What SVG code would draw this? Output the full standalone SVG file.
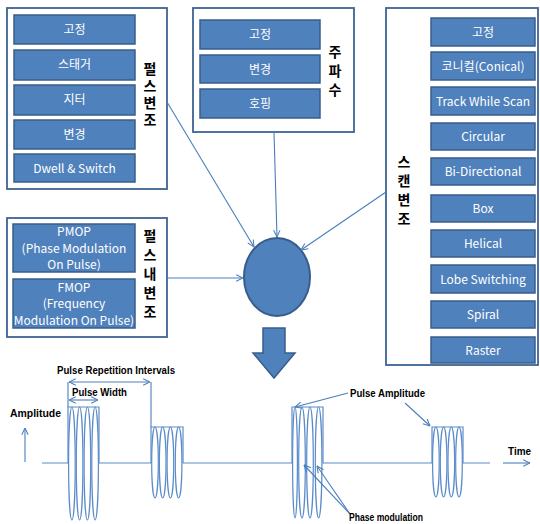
<svg xmlns="http://www.w3.org/2000/svg" width="540" height="524" viewBox="0 0 540 524">
<style>
.frame{fill:#fff;stroke:#3F6393;stroke-width:1.8}
.box{fill:#4F81BD;stroke:#385D8A;stroke-width:1.5}
.bt{fill:#fff;font-family:"Noto Sans CJK KR","Noto Sans",sans-serif;font-size:12px;text-anchor:middle}
.vt{fill:#000;font-family:"Noto Sans CJK KR",sans-serif;font-size:14px;font-weight:bold;writing-mode:vertical-rl;text-orientation:upright}
.con{fill:none;stroke:#4A7EBB;stroke-width:1.1}
.wave{fill:none;stroke:#5B8BC9;stroke-width:1.2}
.lbl{fill:#000;font-family:"Liberation Sans",Arial,sans-serif;font-size:11px;font-weight:bold}
</style>
<defs>
<marker id="ah" viewBox="0 0 10 10" refX="9.5" refY="5" markerWidth="8" markerHeight="8" orient="auto-start-reverse" markerUnits="userSpaceOnUse">
<path d="M1,1 L9.5,5 L1,9" fill="none" stroke="#4A7EBB" stroke-width="1.3"/>
</marker>
</defs>
<rect width="540" height="524" fill="#fff"/>

<g id="pulse-mod">
<rect class="frame" x="7" y="8" width="160" height="181"/>
<rect class="box" x="14" y="15" width="121" height="29"/><text class="bt" x="74.5" y="34">고정</text>
<rect class="box" x="14" y="50" width="121" height="30"/><text class="bt" x="74.5" y="69">스태거</text>
<rect class="box" x="14" y="85" width="121" height="30"/><text class="bt" x="74.5" y="104">지터</text>
<rect class="box" x="14" y="120" width="121" height="29"/><text class="bt" x="74.5" y="139">변경</text>
<rect class="box" x="14" y="154" width="121" height="28"/><text class="bt" x="74.5" y="172.5">Dwell &amp; Switch</text>
<text class="vt" x="150" y="62" letter-spacing="3">펄스변조</text>
</g>

<g id="freq">
<rect class="frame" x="193" y="8" width="161" height="124"/>
<rect class="box" x="200" y="20" width="120" height="29"/><text class="bt" x="260" y="39">고정</text>
<rect class="box" x="200" y="55" width="120" height="28"/><text class="bt" x="260" y="73.5">변경</text>
<rect class="box" x="200" y="89" width="120" height="29"/><text class="bt" x="260" y="108">호핑</text>
<text class="vt" x="335" y="45" letter-spacing="5">주파수</text>
</g>

<g id="scan-mod">
<rect class="frame" x="386" y="8" width="152" height="357"/>
<rect class="box" x="431" y="18" width="104" height="28"/><text class="bt" x="483" y="36.5">고정</text>
<rect class="box" x="431" y="52" width="104" height="28"/><text class="bt" x="483" y="70.5">코니컬(Conical)</text>
<rect class="box" x="431" y="87" width="104" height="28"/><text class="bt" x="483" y="105.5">Track While Scan</text>
<rect class="box" x="431" y="123" width="104" height="27"/><text class="bt" x="483" y="141">Circular</text>
<rect class="box" x="431" y="158" width="104" height="27"/><text class="bt" x="483" y="176">Bi-Directional</text>
<rect class="box" x="431" y="195" width="104" height="27"/><text class="bt" x="483" y="213">Box</text>
<rect class="box" x="431" y="230" width="104" height="27"/><text class="bt" x="483" y="248">Helical</text>
<rect class="box" x="431" y="265" width="104" height="28"/><text class="bt" x="483" y="283.5">Lobe Switching</text>
<rect class="box" x="431" y="301" width="104" height="27"/><text class="bt" x="483" y="319">Spiral</text>
<rect class="box" x="431" y="337" width="104" height="26"/><text class="bt" x="483" y="354.5">Raster</text>
<text class="vt" x="404" y="155" letter-spacing="5">스캔변조</text>
</g>

<g id="intra-pulse">
<rect class="frame" x="7" y="218" width="160" height="119"/>
<rect class="box" x="13" y="224" width="122" height="48"/>
<text class="bt" x="74" y="235.5">PMOP</text><text class="bt" x="74" y="253">(Phase Modulation</text><text class="bt" x="74" y="268.5">On Pulse)</text>
<rect class="box" x="13" y="279" width="122" height="49"/>
<text class="bt" x="74" y="291.5">FMOP</text><text class="bt" x="74" y="308">(Frequency</text><text class="bt" x="74" y="325">Modulation On Pulse)</text>
<text class="vt" x="150" y="229" letter-spacing="5">펄스내변조</text>
</g>

<g id="center">
<ellipse cx="277" cy="277" rx="33" ry="39" fill="#4F81BD" stroke="#385D8A" stroke-width="2"/>
</g>
<g id="down-arrow">
<polygon points="263,328 285,328 285,353 295,353 274,378 253,353 263,353" fill="#4F81BD" stroke="#385D8A" stroke-width="1.5"/>
</g>

<g id="connectors">
<line class="con" x1="167" y1="102" x2="254" y2="247" marker-end="url(#ah)"/>
<line class="con" x1="274" y1="132" x2="277" y2="237" marker-end="url(#ah)"/>
<line class="con" x1="386" y1="192" x2="301" y2="250" marker-end="url(#ah)"/>
<line class="con" x1="167" y1="278" x2="243" y2="278" marker-end="url(#ah)"/>
</g>

<g id="waveform">
<path class="wave" d="M42,463 H68 V407 H99 V463 H151 V427 H183 V463 H292 V407 H323 V463 H432 V427 H463 V463 H490"/>
<ellipse class="wave" cx="71.9" cy="463.5" rx="3.3" ry="56.5"/>
<ellipse class="wave" cx="79.6" cy="463.5" rx="3.3" ry="56.5"/>
<ellipse class="wave" cx="87.4" cy="463.5" rx="3.3" ry="56.5"/>
<ellipse class="wave" cx="95.1" cy="463.5" rx="3.3" ry="56.5"/>
<ellipse class="wave" cx="155" cy="462.5" rx="3.3" ry="35.5"/>
<ellipse class="wave" cx="162.7" cy="462.5" rx="3.3" ry="35.5"/>
<ellipse class="wave" cx="170.4" cy="462.5" rx="3.3" ry="35.5"/>
<ellipse class="wave" cx="178.6" cy="462.5" rx="3.3" ry="35.5"/>
<ellipse class="wave" cx="295" cy="462.5" rx="2.4" ry="55.5"/>
<ellipse class="wave" cx="302" cy="462.5" rx="3.3" ry="55.5"/>
<ellipse class="wave" cx="310" cy="462.5" rx="3.3" ry="55.5"/>
<ellipse class="wave" cx="318.6" cy="462.5" rx="3.3" ry="55.5"/>
<ellipse class="wave" cx="435.9" cy="462" rx="3.3" ry="35"/>
<ellipse class="wave" cx="443.6" cy="462" rx="3.3" ry="35"/>
<ellipse class="wave" cx="451.3" cy="462" rx="3.3" ry="35"/>
<ellipse class="wave" cx="459" cy="462" rx="3.3" ry="35"/>
<line class="con" x1="68" y1="382" x2="68" y2="407"/>
<line class="con" x1="151" y1="382" x2="151" y2="427"/>
<line class="con" x1="69" y1="382" x2="150" y2="382" marker-start="url(#ah)" marker-end="url(#ah)"/>
<line class="con" x1="69" y1="400" x2="98" y2="400" marker-start="url(#ah)" marker-end="url(#ah)"/>
<line class="con" x1="25" y1="462" x2="25" y2="428" marker-end="url(#ah)"/>
<line class="con" x1="348" y1="393" x2="295" y2="407" marker-end="url(#ah)"/>
<line class="con" x1="405" y1="403" x2="430" y2="426" marker-end="url(#ah)"/>
<line class="con" x1="350" y1="514" x2="304" y2="465" marker-end="url(#ah)"/>
<line class="con" x1="350" y1="514" x2="317" y2="466" marker-end="url(#ah)"/>
<line class="con" x1="503" y1="463" x2="530" y2="463" marker-end="url(#ah)"/>
<text class="lbl" x="57" y="374" textLength="118" lengthAdjust="spacingAndGlyphs">Pulse Repetition Intervals</text>
<text class="lbl" x="72" y="396" textLength="55" lengthAdjust="spacingAndGlyphs">Pulse Width</text>
<text class="lbl" x="10" y="417" textLength="51" lengthAdjust="spacingAndGlyphs">Amplitude</text>
<text class="lbl" x="350" y="397" textLength="75" lengthAdjust="spacingAndGlyphs">Pulse Amplitude</text>
<text class="lbl" x="349" y="521" textLength="74" lengthAdjust="spacingAndGlyphs">Phase modulation</text>
<text class="lbl" x="508" y="455" textLength="23" lengthAdjust="spacingAndGlyphs">Time</text>
</g>
</svg>
